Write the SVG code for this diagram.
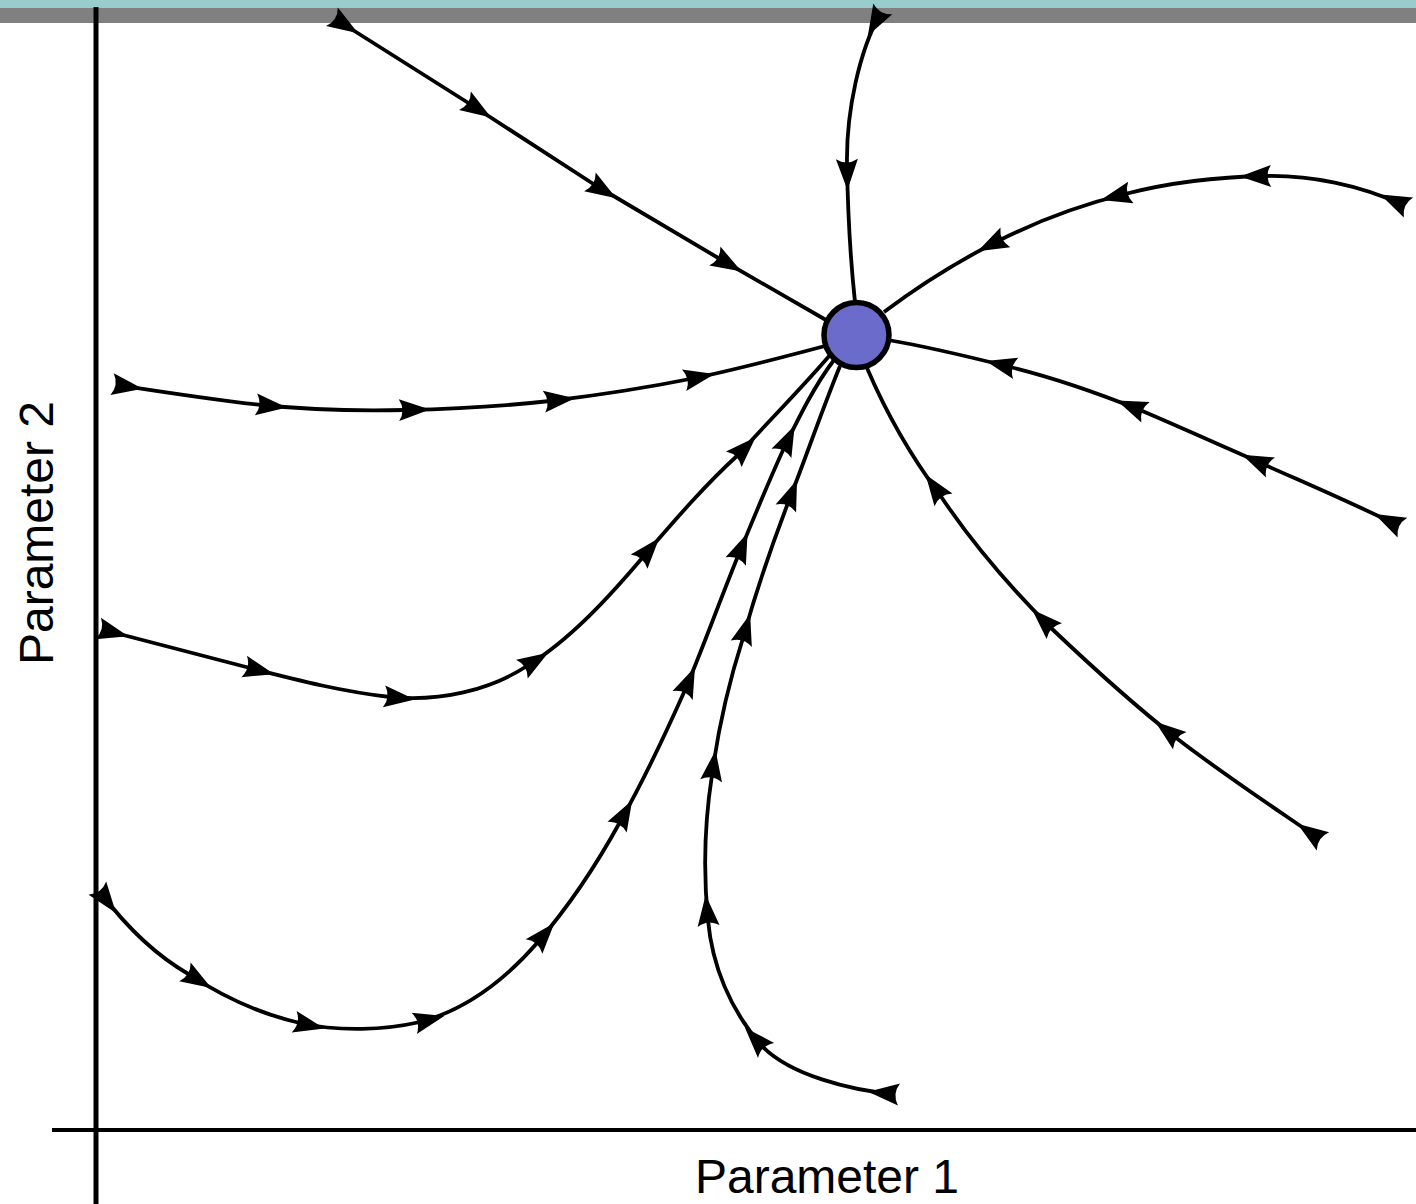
<svg xmlns="http://www.w3.org/2000/svg" width="1416" height="1204" viewBox="0 0 1416 1204">
<style>
.traj{fill:none;stroke:#000;stroke-width:3.8;stroke-linejoin:round;marker-start:url(#ah);marker-mid:url(#ah)}
.axis{stroke:#000;fill:none}
.lbl{font-family:"Liberation Sans",Arial,sans-serif;font-size:48px;fill:#000}
</style>
<defs>
<marker id="ah" markerUnits="userSpaceOnUse" markerWidth="40" markerHeight="30" viewBox="-10 -15 40 30" refX="0" refY="0" orient="auto" overflow="visible">
<path d="M25,0 L-6,-11 Q1,0 -6,11 Z" fill="#000"/>
</marker>
</defs>
<rect x="0" y="0" width="1416" height="1204" fill="#fff"/>
<rect x="0" y="0" width="1416" height="8" fill="#99cccc"/>
<rect x="0" y="8" width="1416" height="15" fill="#808080"/>
<g id="axes">
<line class="axis" x1="96" y1="7" x2="96" y2="1204" stroke-width="5"/>
<line class="axis" x1="52" y1="1130" x2="1416" y2="1130" stroke-width="4"/>
</g>
<g id="connectors">
<path class="traj" d="M337,20 L470,104 L595,185 L720,259 L826,320"/>
<path class="traj" d="M880,14 C860,50 846,110 847,165 C848,220 851,265 855,302"/>
<path class="traj" d="M1403,205 C1360,185 1310,175 1265,176 C1210,177 1160,185 1125,194 C1080,205 1040,220 1000,240 C960,260 920,285 884,312"/>
<path class="traj" d="M1397,525 C1350,502 1310,485 1265,465 C1220,445 1180,427 1140,410 C1095,392 1055,378 1010,367 C970,357 930,347 888,340"/>
<path class="traj" d="M1318,838 C1270,805 1220,772 1175,737 C1130,702 1090,665 1050,627 C1005,582 970,540 940,495 C910,455 885,410 867,368"/>
<path class="traj" d="M893,1094 C850,1090 790,1075 762,1046 C730,1010 712,965 708,920 C703,870 705,820 712,775 C718,730 728,685 743,638 C755,595 770,550 788,503 C805,460 822,410 840,366"/>
<path class="traj" d="M101,893 C125,925 155,955 190,975 C225,998 265,1015 300,1023 C340,1032 385,1030 420,1022 C465,1010 505,980 538,942 C570,905 598,862 620,822 C645,778 665,735 685,690 C703,648 720,600 738,556 C753,520 767,485 784,448 C800,415 815,385 834,360"/>
<path class="traj" d="M104,630 C150,642 200,655 250,668 C300,681 345,692 390,697 C440,702 490,690 527,666 C570,640 610,596 643,557 C675,520 705,485 738,455 C765,425 800,390 830,355"/>
<path class="traj" d="M118,385 C170,393 215,400 262,405 C310,410 360,411 405,410 C455,409 505,406 550,401 C600,395 645,388 690,379 C735,370 780,358 825,346"/>
</g>
<g id="node">
<circle cx="856.5" cy="335" r="32.5" fill="#6b6bcc" stroke="#000" stroke-width="5.5"/>
</g>
<g id="labels">
<text class="lbl" x="827" y="1193" text-anchor="middle">Parameter 1</text>
<text class="lbl" transform="translate(53,533) rotate(-90)" text-anchor="middle">Parameter 2</text>
</g>
</svg>
